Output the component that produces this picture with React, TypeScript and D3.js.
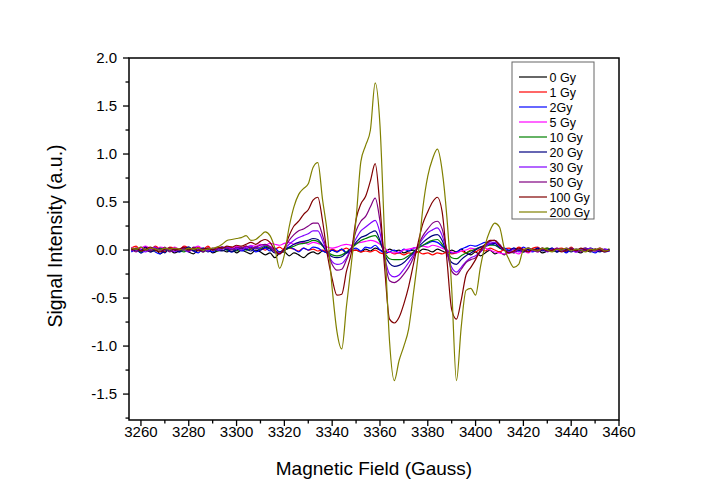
import React from "react";
import * as d3 from "d3";

const FIELD = [
  3256, 3258, 3260, 3262, 3264, 3266, 3268, 3270, 3272, 3274,
  3276, 3278, 3280, 3282, 3284, 3286, 3288, 3290, 3292, 3294,
  3296, 3298, 3300, 3302, 3304, 3306, 3308, 3310, 3312, 3314,
  3316, 3318, 3320, 3322, 3324, 3326, 3328, 3330, 3332, 3334,
  3336, 3338, 3340, 3342, 3344, 3346, 3348, 3350, 3352, 3354,
  3356, 3358, 3360, 3362, 3364, 3366, 3368, 3370, 3372, 3374,
  3376, 3378, 3380, 3382, 3384, 3386, 3388, 3390, 3392, 3394,
  3396, 3398, 3400, 3402, 3404, 3406, 3408, 3410, 3412, 3414,
  3416, 3418, 3420, 3422, 3424, 3426, 3428, 3430, 3432, 3434,
  3436, 3438, 3440, 3442, 3444, 3446, 3448, 3450, 3452, 3454,
  3456,
];

const GY0 = [
  -0.01, 0.01, -0.03, 0.0, -0.02, 0.01, -0.04, -0.01, 0.0, -0.03,
  -0.01, 0.01, -0.02, -0.04, 0.0, -0.02, 0.01, -0.03, -0.01, 0.0,
  -0.02, 0.01, -0.03, 0.0, -0.02, -0.04, 0.0, -0.02, -0.05, -0.03,
  -0.08, -0.03, -0.02, -0.06, -0.03, -0.05, -0.08, -0.04, -0.02, -0.04,
  -0.01, -0.03, 0.0, -0.02, 0.01, -0.03, -0.01, 0.0, -0.02, 0.01,
  -0.01, 0.02, 0.0, -0.02, 0.01, -0.01, 0.0, -0.03, -0.01, 0.0,
  -0.02, 0.01, 0.0, -0.02, 0.01, -0.01, -0.03, 0.0, -0.02, 0.01,
  -0.03, -0.05, -0.02, -0.06, -0.03, 0.0, -0.04, -0.02, -0.05, -0.01,
  -0.03, 0.0, -0.02, 0.01, -0.01, 0.0, -0.03, -0.01, 0.0, -0.02,
  0.0, -0.02, 0.01, -0.01, -0.03, 0.0, -0.02, 0.01, -0.01, 0.0,
  -0.01,
];

const GY1 = [
  0.02, 0.04, -0.01, 0.03, 0.0, 0.04, 0.01, -0.02, 0.03, 0.02,
  0.0, 0.04, 0.02, -0.01, 0.03, 0.01, 0.04, 0.0, 0.02, 0.03,
  0.01, 0.03, 0.0, 0.02, 0.04, 0.01, 0.03, 0.02, 0.0, 0.03,
  0.01, 0.03, 0.0, 0.02, 0.01, -0.01, 0.02, 0.0, 0.01, -0.01,
  0.0, -0.02, 0.01, -0.01, 0.0, 0.02, -0.01, 0.0, -0.02, -0.01,
  -0.02, 0.0, -0.03, -0.04, -0.02, -0.04, -0.03, -0.05, -0.03, -0.04,
  -0.02, -0.04, -0.03, -0.05, -0.03, -0.04, -0.02, -0.04, -0.03, -0.01,
  -0.03, 0.0, -0.02, 0.01, -0.01, 0.02, 0.0, -0.02, 0.01, 0.02,
  0.0, 0.03, 0.01, -0.01, 0.02, 0.03, 0.0, 0.02, -0.01, 0.01,
  0.02, 0.0, 0.03, -0.01, 0.01, 0.02, 0.0, -0.01, 0.02, 0.0,
  0.01,
];

const GY2 = [
  -0.02, 0.01, -0.03, 0.0, 0.02, -0.02, -0.04, 0.01, -0.01, 0.02,
  -0.02, 0.0, 0.03, -0.01, -0.03, 0.02, 0.0, -0.02, 0.01, 0.03,
  0.0, -0.02, 0.02, -0.01, 0.01, 0.03, -0.02, 0.0, 0.02, -0.01,
  0.02, -0.02, 0.0, 0.03, 0.01, -0.02, 0.02, 0.0, 0.03, 0.02,
  -0.01, -0.03, 0.0, -0.02, 0.01, -0.03, 0.0, 0.02, -0.01, 0.03,
  0.02, 0.05, 0.0, -0.03, -0.02, 0.0, -0.03, 0.01, -0.01, 0.02,
  0.03, 0.05, 0.07, 0.09, 0.08, 0.04, 0.0, -0.03, -0.02, 0.01,
  0.03, 0.05, 0.04, 0.06, 0.08, 0.07, 0.05, 0.03, 0.02, 0.0,
  0.02, -0.01, 0.03, 0.0, -0.02, 0.02, 0.0, -0.01, 0.02, -0.02,
  0.0, -0.03, 0.01, -0.02, 0.0, 0.02, -0.01, -0.03, 0.0, -0.02,
  -0.01,
];

const GY5 = [
  0.03, 0.0, 0.02, 0.04, 0.01, -0.01, 0.03, 0.02, 0.0, 0.03,
  0.01, 0.03, 0.0, 0.02, 0.04, 0.01, 0.02, 0.0, 0.03, 0.02,
  0.03, 0.02, 0.04, 0.03, 0.02, 0.05, 0.04, 0.06, 0.05, 0.07,
  0.06, 0.05, 0.07, 0.08, 0.06, 0.07, 0.08, 0.06, 0.08, 0.07,
  0.05, 0.03, 0.02, 0.03, 0.05, 0.06, 0.05, 0.07, 0.08, 0.09,
  0.1, 0.09, 0.06, 0.02, -0.02, -0.03, -0.02, 0.0, 0.01, 0.02,
  0.03, 0.04, 0.03, 0.05, 0.04, 0.02, 0.0, -0.02, -0.03, -0.01,
  0.0, 0.02, 0.01, 0.03, 0.02, 0.0, -0.02, -0.03, -0.04, -0.03,
  -0.02, -0.04, -0.01, -0.03, 0.0, -0.02, 0.01, -0.01, 0.0, 0.02,
  -0.01, 0.0, 0.01, -0.02, 0.0, 0.01, -0.01, 0.0, 0.02, -0.01,
  0.0,
];

const GY10 = [
  0.0, 0.01, -0.02, 0.01, 0.0, -0.01, 0.02, 0.0, -0.01, 0.01,
  0.0, -0.02, 0.01, 0.0, 0.02, -0.01, 0.0, 0.01, -0.01, 0.02,
  0.0, 0.01, -0.01, 0.02, 0.0, 0.01, 0.03, 0.02, 0.04, 0.02,
  -0.01, -0.02, 0.0, 0.02, 0.04, 0.06, 0.07, 0.08, 0.1, 0.09,
  0.04, -0.02, -0.05, -0.06, -0.05, -0.02, 0.02, 0.06, 0.1, 0.12,
  0.14, 0.15, 0.08, -0.03, -0.09, -0.1, -0.1, -0.09, -0.06, -0.02,
  0.02, 0.05, 0.08, 0.1, 0.11, 0.06, -0.02, -0.08, -0.09, -0.06,
  -0.03, -0.01, 0.01, 0.03, 0.04, 0.05, 0.05, 0.02, 0.0, -0.01,
  0.01, 0.0, -0.01, 0.02, 0.0, -0.01, 0.01, 0.02, 0.0, -0.01,
  0.01, 0.0, 0.02, -0.01, 0.0, 0.01, -0.01, 0.0, 0.01, 0.0,
  0.01,
];

const GY20 = [
  0.02, -0.01, 0.0, 0.03, -0.02, 0.0, 0.01, -0.03, 0.02, 0.0,
  -0.02, 0.01, 0.03, -0.01, 0.0, 0.02, -0.02, 0.01, 0.0, -0.01,
  0.01, -0.02, 0.0, 0.02, 0.01, -0.01, 0.02, 0.0, 0.03, 0.01,
  -0.03, -0.02, 0.0, 0.03, 0.06, 0.08, 0.09, 0.1, 0.12, 0.11,
  0.05, -0.03, -0.07, -0.08, -0.07, -0.03, 0.02, 0.08, 0.13, 0.15,
  0.18, 0.2, 0.1, -0.05, -0.14, -0.17, -0.16, -0.13, -0.08, -0.03,
  0.03, 0.08, 0.12, 0.15, 0.16, 0.1, -0.03, -0.13, -0.15, -0.1,
  -0.06, -0.03, 0.0, 0.03, 0.05, 0.06, 0.07, 0.03, 0.0, -0.01,
  0.02, 0.0, -0.02, 0.01, 0.0, 0.02, -0.01, 0.0, 0.02, -0.02,
  0.0, 0.01, -0.02, 0.01, 0.0, -0.01, 0.02, 0.0, -0.02, 0.01,
  0.0,
];

const GY30 = [
  -0.01, 0.02, 0.0, -0.02, 0.01, 0.03, -0.01, 0.0, 0.02, -0.02,
  0.01, 0.0, -0.02, 0.02, 0.0, 0.01, -0.01, 0.02, 0.0, 0.01,
  0.03, 0.01, 0.02, 0.0, 0.03, 0.04, 0.02, 0.03, 0.05, 0.04,
  0.0, -0.03, 0.01, 0.06, 0.1, 0.13, 0.15, 0.17, 0.2, 0.2,
  0.1, -0.03, -0.12, -0.15, -0.14, -0.08, 0.02, 0.12, 0.2, 0.24,
  0.28, 0.31, 0.18, -0.08, -0.25, -0.28, -0.26, -0.2, -0.13, -0.05,
  0.04, 0.12, 0.18, 0.21, 0.23, 0.15, -0.02, -0.18, -0.23, -0.18,
  -0.12, -0.08, -0.06, -0.02, 0.03, 0.07, 0.08, 0.04, 0.0, -0.02,
  0.01, -0.02, 0.0, 0.02, -0.01, 0.0, 0.02, -0.02, 0.01, 0.0,
  -0.01, 0.02, 0.0, -0.02, 0.01, 0.0, 0.02, -0.01, 0.0, 0.01,
  -0.01,
];

const GY50 = [
  0.01, -0.02, 0.03, 0.0, -0.01, 0.02, 0.0, 0.03, -0.02, 0.01,
  0.0, 0.02, -0.01, 0.03, 0.01, -0.02, 0.02, 0.0, 0.01, 0.03,
  0.02, 0.0, 0.03, 0.02, 0.04, 0.02, 0.03, 0.05, 0.06, 0.03,
  -0.02, -0.04, 0.02, 0.1, 0.16, 0.2, 0.22, 0.25, 0.28, 0.28,
  0.15, -0.02, -0.15, -0.21, -0.2, -0.1, 0.02, 0.2, 0.3, 0.35,
  0.45, 0.54, 0.3, -0.1, -0.32, -0.34, -0.31, -0.25, -0.18, -0.08,
  0.05, 0.15, 0.22, 0.28, 0.3, 0.22, 0.0, -0.22, -0.26, -0.2,
  -0.13, -0.1, -0.08, -0.02, 0.05, 0.09, 0.1, 0.06, 0.0, -0.03,
  -0.02, 0.01, -0.01, 0.02, 0.0, -0.02, 0.01, 0.0, -0.01, 0.02,
  0.0, -0.01, 0.02, 0.0, -0.02, 0.01, 0.0, -0.01, 0.01, 0.0,
  -0.01,
];

const GY100 = [
  0.0, 0.02, -0.01, 0.01, 0.03, 0.0, -0.02, 0.01, 0.02, 0.0,
  0.01, 0.03, 0.0, 0.02, -0.01, 0.01, 0.02, 0.0, 0.03, 0.02,
  0.04, 0.03, 0.05, 0.04, 0.06, 0.08, 0.06, 0.09, 0.11, 0.08,
  0.0, -0.04, 0.02, 0.15, 0.25, 0.3, 0.37, 0.42, 0.52, 0.55,
  0.3, -0.05, -0.3, -0.47, -0.46, -0.22, -0.03, 0.32, 0.48, 0.56,
  0.72, 0.9, 0.45, -0.2, -0.72, -0.76, -0.7, -0.56, -0.38, -0.15,
  0.08, 0.28, 0.4, 0.5, 0.55, 0.4, -0.1, -0.62, -0.72, -0.52,
  -0.26, -0.18, -0.1, 0.0, 0.06, 0.1, 0.1, 0.05, 0.0, -0.03,
  -0.01, 0.02, 0.0, -0.02, 0.01, 0.0, 0.02, -0.01, 0.0, 0.01,
  -0.02, 0.0, 0.01, -0.01, 0.02, 0.0, -0.01, 0.01, 0.0, -0.02,
  0.0,
];

const GY200 = [
  0.02, 0.01, 0.03, 0.0, 0.02, 0.01, 0.0, 0.02, 0.01, 0.02,
  0.01, 0.0, 0.02, 0.01, 0.02, 0.0, 0.01, 0.02, 0.03, 0.06,
  0.1, 0.11, 0.12, 0.13, 0.15, 0.1, 0.11, 0.15, 0.19, 0.15,
  0.02, -0.19, -0.05, 0.24, 0.45, 0.58, 0.64, 0.69, 0.86, 0.91,
  0.52, 0.17, -0.4, -0.85, -1.03, -0.58, -0.15, 0.32, 0.92, 1.09,
  1.25, 1.74, 1.3, 0.1, -0.95, -1.36, -1.15, -1.0, -0.82, -0.45,
  -0.05, 0.45, 0.77, 0.95, 1.05, 0.83, 0.34, -0.4, -1.36, -0.8,
  -0.42, -0.4, -0.47, -0.18, 0.05, 0.2, 0.28, 0.24, 0.02, -0.1,
  -0.18, -0.15, 0.0, 0.02, 0.0, -0.01, 0.02, 0.0, -0.02, 0.01,
  0.0, 0.02, -0.01, 0.01, 0.0, -0.02, 0.01, 0.0, 0.02, -0.01,
  0.0,
];

const SERIES_NAMES = ["0 Gy", "1 Gy", "2Gy", "5 Gy", "10 Gy", "20 Gy", "30 Gy", "50 Gy", "100 Gy", "200 Gy"];
const SERIES_VALUES = [GY0, GY1, GY2, GY5, GY10, GY20, GY30, GY50, GY100, GY200];
const SERIES_COLORS = [
  "#000000", "#ff0000", "#0000ff", "#ff00ff", "#008000",
  "#000080", "#8000ff", "#800080", "#800000", "#808000",
];

const X_TICKS = [3260, 3280, 3300, 3320, 3340, 3360, 3380, 3400, 3420, 3440, 3460];
const X_MINOR = [3270, 3290, 3310, 3330, 3350, 3370, 3390, 3410, 3430, 3450];
const Y_TICKS = [-1.5, -1.0, -0.5, 0.0, 0.5, 1.0, 1.5, 2.0];
const Y_MINOR = [-1.75, -1.25, -0.75, -0.25, 0.25, 0.75, 1.25, 1.75];

const W = 720;
const H = 503;
const LEFT = 129;
const RIGHT = 619;
const TOP = 58;
const BOTTOM = 420;
const FONT = "Arial, 'Liberation Sans', Helvetica, sans-serif";

export default function App() {
  const x = d3.scaleLinear().domain([3255, 3460]).range([LEFT, RIGHT]);
  const y = d3.scaleLinear().domain([-1.77, 2.0]).range([BOTTOM, TOP]);

  const line = d3
    .line<number>()
    .x((_, i) => x(FIELD[i]))
    .y((d) => y(d))
    .curve(d3.curveMonotoneX);

  const legX = 512;
  const legY = 62;
  const legW = 82;
  const legH = 157;
  const rowH = 15;

  return (
    <svg
      width={W}
      height={H}
      style={{ position: "absolute", left: 0, top: 0, background: "#ffffff" }}
      fontFamily={FONT}
    >
      <rect x={0} y={0} width={W} height={H} fill="#ffffff" />
      <defs>
        <clipPath id="plotclip">
          <rect x={LEFT} y={TOP} width={RIGHT - LEFT} height={BOTTOM - TOP} />
        </clipPath>
      </defs>

      <g clipPath="url(#plotclip)">
        {SERIES_VALUES.map((vals, k) => (
          <path
            key={SERIES_NAMES[k]}
            d={line(vals) || ""}
            fill="none"
            stroke={SERIES_COLORS[k]}
            strokeWidth={1.2}
            strokeLinejoin="round"
          />
        ))}
      </g>

      {/* frame */}
      <rect
        x={LEFT}
        y={TOP}
        width={RIGHT - LEFT}
        height={BOTTOM - TOP}
        fill="none"
        stroke="#000"
        strokeWidth={1.5}
      />

      {/* x ticks */}
      {X_TICKS.map((t) => (
        <g key={"xt" + t}>
          <line x1={x(t)} x2={x(t)} y1={BOTTOM} y2={BOTTOM + 6} stroke="#000" strokeWidth={1.3} />
          <text x={x(t)} y={437} textAnchor="middle" fontSize={15} fill="#000">
            {t}
          </text>
        </g>
      ))}
      {X_MINOR.map((t) => (
        <line key={"xm" + t} x1={x(t)} x2={x(t)} y1={BOTTOM} y2={BOTTOM + 3.5} stroke="#000" strokeWidth={1.3} />
      ))}

      {/* y ticks */}
      {Y_TICKS.map((t) => (
        <g key={"yt" + t}>
          <line x1={LEFT - 6} x2={LEFT} y1={y(t)} y2={y(t)} stroke="#000" strokeWidth={1.3} />
          <text x={LEFT - 12} y={y(t) + 5} textAnchor="end" fontSize={15} fill="#000">
            {t.toFixed(1)}
          </text>
        </g>
      ))}
      {Y_MINOR.map((t) => (
        <line key={"ym" + t} x1={LEFT - 3.5} x2={LEFT} y1={y(t)} y2={y(t)} stroke="#000" strokeWidth={1.3} />
      ))}

      {/* axis titles */}
      <text x={374} y={475} textAnchor="middle" fontSize={19} fill="#000">
        Magnetic Field (Gauss)
      </text>
      <text
        transform={`translate(62, 236) rotate(-90)`}
        textAnchor="middle"
        fontSize={19.5}
        fill="#000"
      >
        Signal Intensity (a.u.)
      </text>

      {/* legend */}
      <rect x={legX} y={legY} width={legW} height={legH} fill="#fff" stroke="#666" strokeWidth={1} />
      {SERIES_NAMES.map((name, k) => {
        const cy = legY + 15 + k * rowH;
        return (
          <g key={"lg" + name}>
            <line x1={legX + 7} x2={legX + 35} y1={cy} y2={cy} stroke={SERIES_COLORS[k]} strokeWidth={1.2} />
            <text x={legX + 37.5} y={cy + 4.5} fontSize={12.5} fill="#000">
              {name}
            </text>
          </g>
        );
      })}
    </svg>
  );
}
